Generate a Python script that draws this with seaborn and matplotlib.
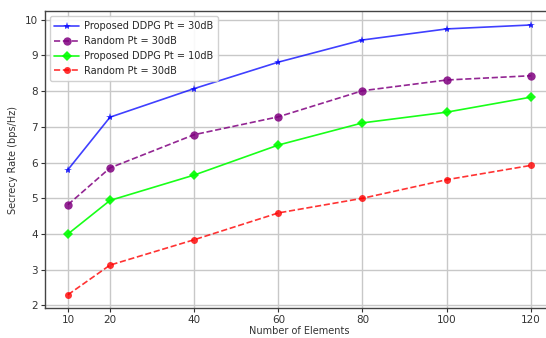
import numpy as np
import pandas as pd
import matplotlib
matplotlib.use('Agg')
import matplotlib.pyplot as plt
import seaborn as sns

sns.set_style('ticks')
plt.rcParams['font.family'] = ['DejaVu Sans']

elements = [10, 20, 40, 60, 80, 100, 120]
ddpg_30 = [5.80, 7.27, 8.07, 8.81, 9.43, 9.74, 9.85]
random_30a = [4.82, 5.85, 6.78, 7.28, 8.01, 8.31, 8.43]
ddpg_10 = [4.00, 4.94, 5.65, 6.49, 7.11, 7.41, 7.83]
random_30b = [2.30, 3.13, 3.84, 4.59, 5.00, 5.52, 5.92]

labels = ['Proposed DDPG Pt = 30dB', 'Random Pt = 30dB',
          'Proposed DDPG Pt = 10dB', 'Random Pt = 30dB']

fig = plt.figure(figsize=(5.46, 3.38), dpi=100)
ax = fig.add_axes([0.082, 0.088, 0.9326, 0.878])

sns.lineplot(x=elements, y=ddpg_30, ax=ax, color='blue', alpha=0.75, marker='*',
             markersize=6, markeredgewidth=0, lw=1.2, label=labels[0])
sns.lineplot(x=elements, y=random_30a, ax=ax, color='purple', alpha=0.85, marker='o',
             markersize=6, markeredgewidth=0, lw=1.2, linestyle='--', label=labels[1])
sns.lineplot(x=elements, y=ddpg_10, ax=ax, color='lime', alpha=0.9, marker='D',
             markersize=5, markeredgewidth=0, lw=1.2, label=labels[2])
sns.lineplot(x=elements, y=random_30b, ax=ax, color='red', alpha=0.8, marker='o',
             markersize=5, markeredgewidth=0, lw=1.2, linestyle='--', label=labels[3])

ax.set_xticks(elements)
ax.set_yticks(range(2, 11))
ax.grid(True, color='#c8c8c8', lw=1)
ax.tick_params(labelsize=7.5, length=3, width=0.8, colors='#333333', pad=2)
for s in ax.spines.values():
    s.set_color('#444444')
    s.set_linewidth(1)
ax.set_xlabel('Number of Elements', fontsize=7, color='#333333', labelpad=0.5)
ax.set_ylabel('Secrecy Rate (bps/Hz)', fontsize=7, color='#333333', labelpad=5)
ax.legend(loc='upper left', fontsize=7, frameon=True, framealpha=0.9,
          edgecolor='#cccccc', handlelength=2.5, handletextpad=0.5,
          borderpad=0.5, labelspacing=0.5)

fig.savefig('out.png', dpi=100)
